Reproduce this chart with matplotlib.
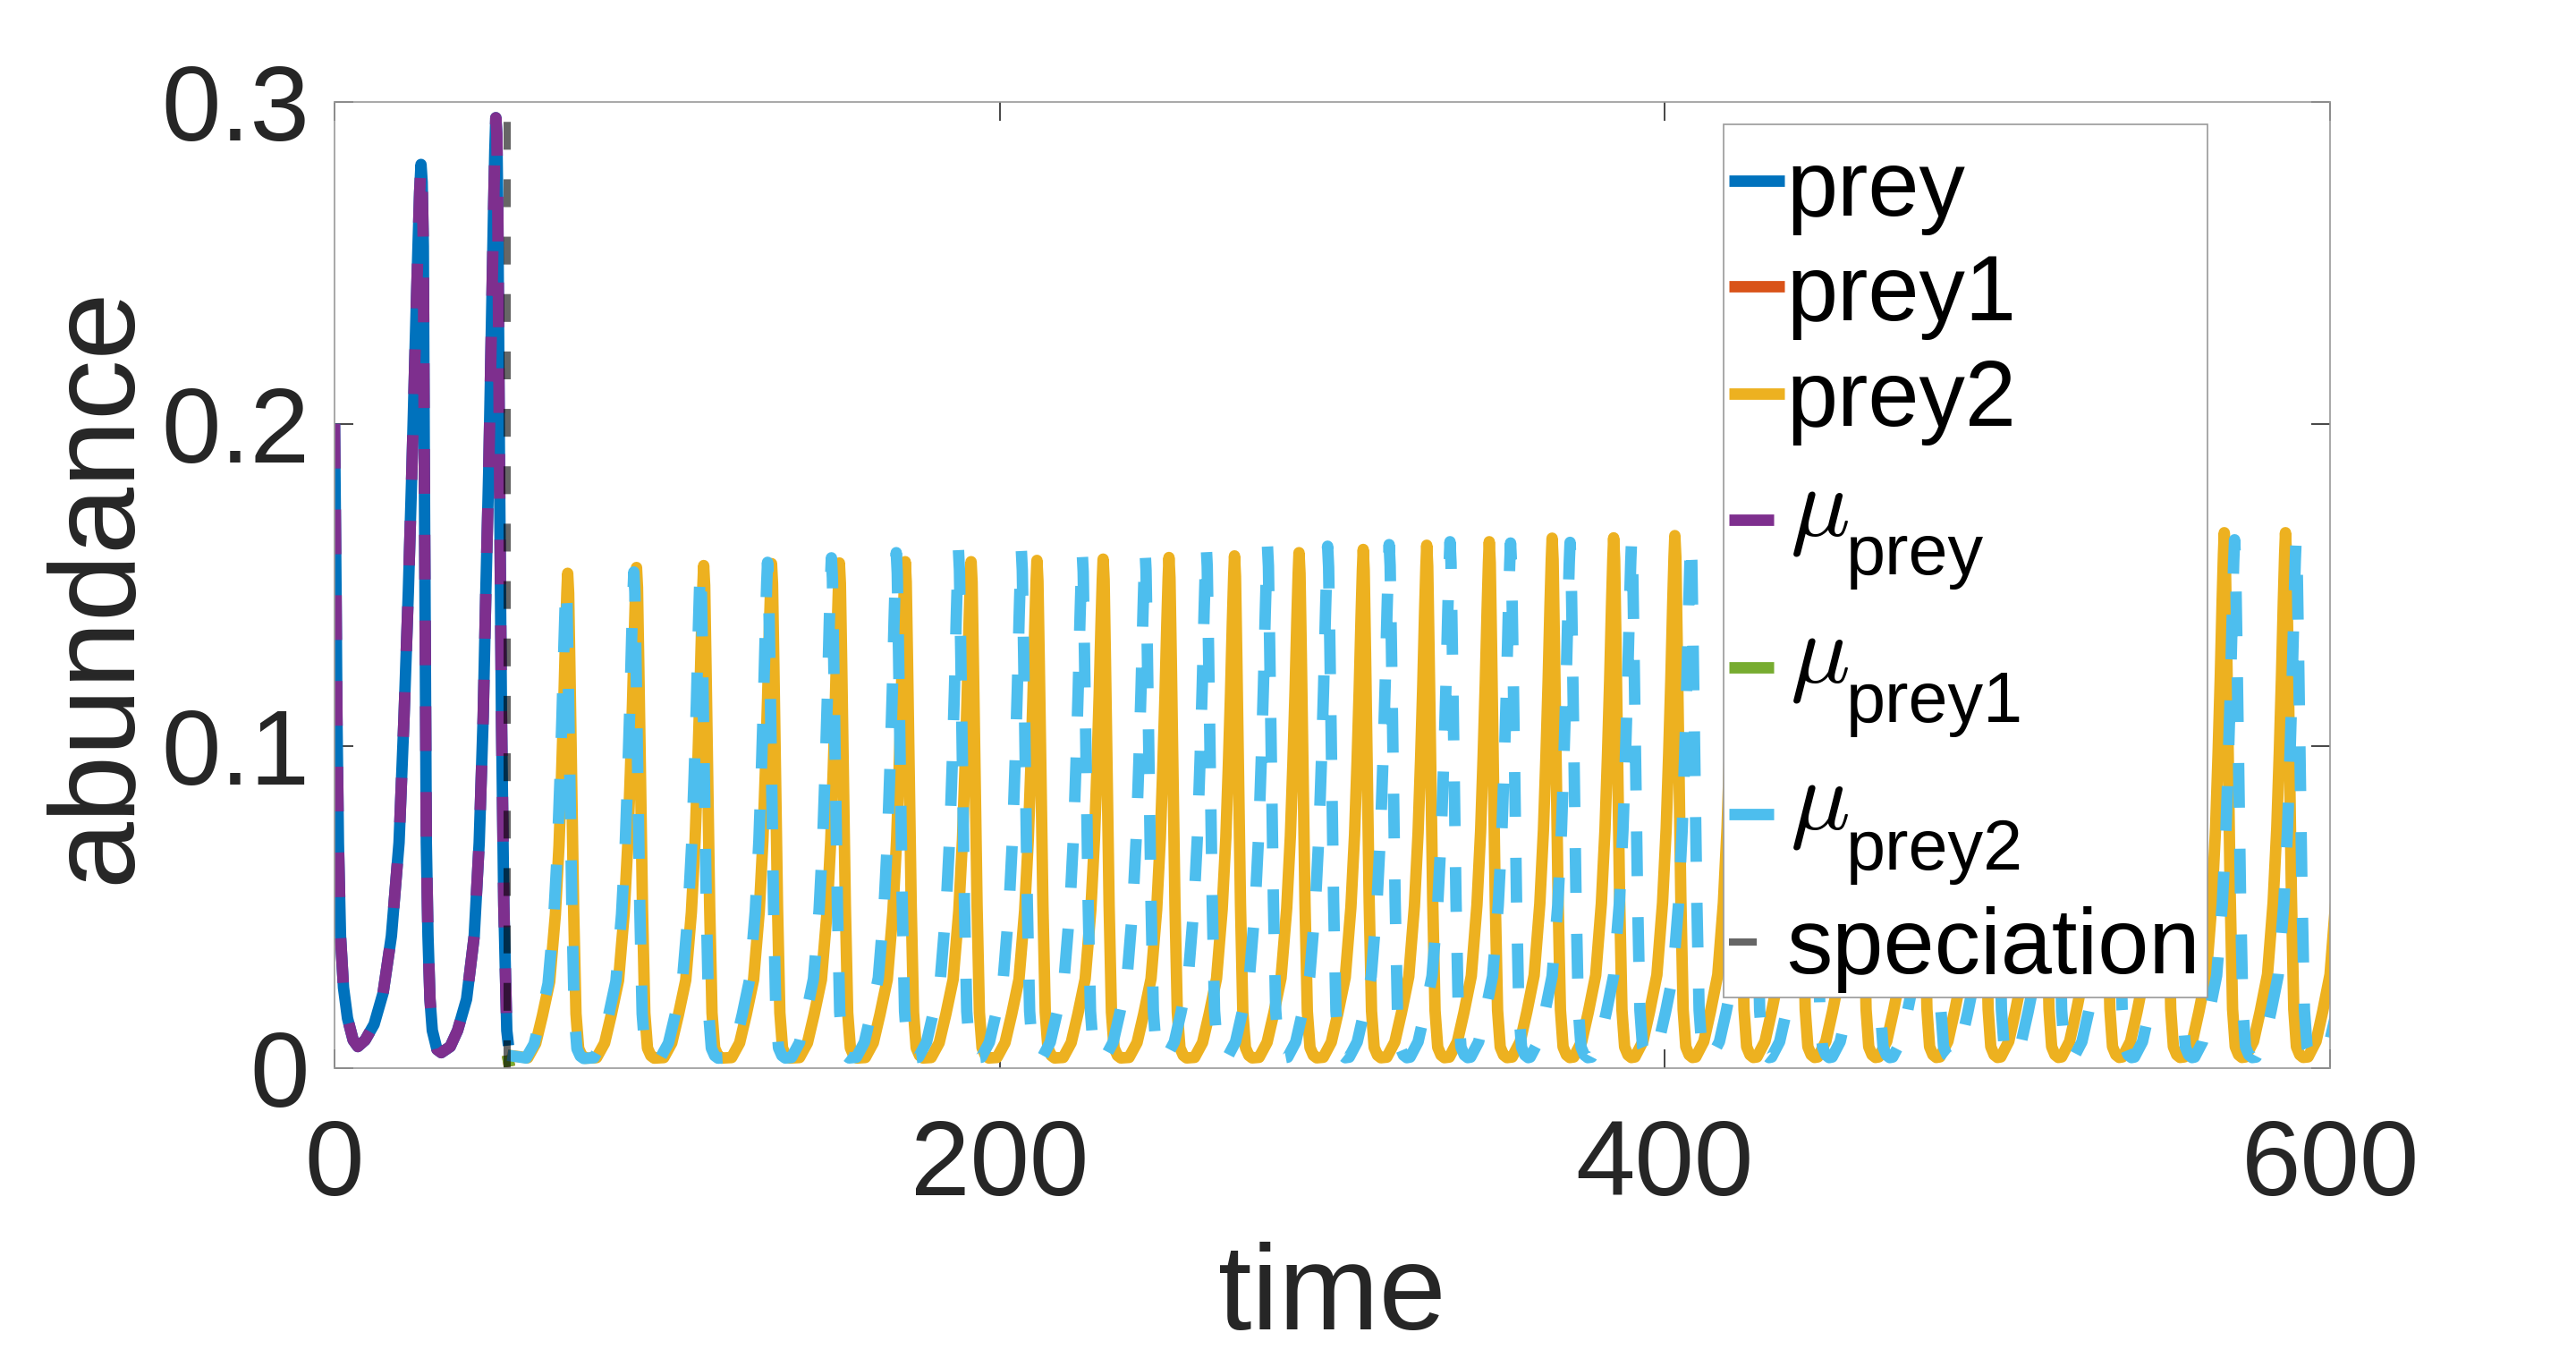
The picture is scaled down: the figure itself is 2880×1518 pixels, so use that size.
import matplotlib
matplotlib.use("Agg")
import matplotlib.pyplot as plt
from matplotlib.lines import Line2D
from matplotlib.patches import Rectangle

plt.rcParams['font.family'] = ['Liberation Sans', 'DejaVu Sans']

# ---------------- data ----------------
# single prey (and its trait mean) before speciation
PREY_T = [0, 0.45, 0.72, 1.17, 1.8, 2.7, 3.9, 5.6, 7.0, 9.2, 11.9, 14.6, 17.1, 19.4,
          20.9, 22.2, 23.3, 24.3, 25.1, 25.6, 26.0, 26.35, 26.7, 27.0, 27.4, 27.6,
          28.1, 28.7, 29.4, 30.8, 32.1, 34.8, 37.0, 39.7, 42.0, 43.5, 44.7, 45.5,
          46.4, 47.1, 47.8, 48.2, 48.5, 48.8, 49.1, 49.6, 50.2, 50.9, 51.8, 52.3]
PREY_Y = [0.200, 0.148, 0.109, 0.070, 0.041, 0.025, 0.0155, 0.0087, 0.0067, 0.0087,
          0.0136, 0.0233, 0.041, 0.070, 0.109, 0.148, 0.187, 0.226, 0.255, 0.272,
          0.2805, 0.275, 0.255, 0.187, 0.109, 0.070, 0.041, 0.0214, 0.0117, 0.0058,
          0.0048, 0.0067, 0.0117, 0.0214, 0.041, 0.070, 0.109, 0.148, 0.187, 0.226,
          0.265, 0.285, 0.295, 0.290, 0.265, 0.187, 0.109, 0.0506, 0.0117, 0.007]
MU_PREY_T = list(PREY_T)
MU_PREY_Y = list(PREY_Y)

SPECIATION_T = 52.0

# prey1 / mu_prey1 vanish right at speciation
PREY1_T = [52.0, 52.6]
PREY1_Y = [0.004, 0.0005]
MU_PREY1_T = [52.0, 52.6]
MU_PREY1_Y = [0.004, 0.0005]

# prey2: peak times and peak heights
PREY2_START = (52.0, 0.004)
PREY2_PEAK_T = [70.1, 90.8, 111.0, 131.4, 151.8, 171.6, 191.4, 211.2, 231.1, 250.9,
                270.6, 290.0, 309.3, 328.4, 347.2, 366.1, 384.6, 403.0, 421.3, 439.7,
                458.0, 476.3, 494.7, 513.0, 531.3, 549.6, 568.2, 586.6, 605.4]
PREY2_PEAK_Y = [0.1536, 0.1554, 0.1560, 0.1566, 0.1568, 0.1572, 0.1572, 0.1576, 0.1580,
                0.1585, 0.1590, 0.1600, 0.1610, 0.1623, 0.1634, 0.1645, 0.1646, 0.1653,
                0.1655, 0.1657, 0.1658, 0.1659, 0.1660, 0.1660, 0.1661, 0.1661, 0.1662,
                0.1662, 0.1662]

# mu_prey2: peak times and peak heights
MU2_START = (52.0, 0.004)
MU2_PEAK_T = [69.6, 90.0, 110.0, 130.2, 149.4, 168.9, 187.6, 206.5, 224.8, 243.7,
              262.1, 280.5, 298.6, 317.1, 335.4, 353.6, 371.5, 390.0, 407.8, 426.0,
              444.1, 462.3, 480.5, 498.7, 516.8, 535.0, 553.2, 571.3, 589.8, 609.5]
MU2_PEAK_Y = [0.1500, 0.1540, 0.1550, 0.1570, 0.1584, 0.1600, 0.1610, 0.1610, 0.1605,
              0.1610, 0.1623, 0.1623, 0.1620, 0.1625, 0.1634, 0.1630, 0.1632, 0.1640,
              0.1640, 0.1640, 0.1640, 0.1640, 0.1640, 0.1640, 0.1640, 0.1640, 0.1640,
              0.1640, 0.1640, 0.1640]

# shape of one spike (time offset from the peak, fraction of the peak height)
SPIKE_DT = [-12.0, -9.6, -7.6, -5.4, -3.7, -2.6, -1.85, -1.2, -0.65, -0.25, 0.0,
            0.3, 0.7, 1.2, 1.8, 2.5, 3.3, 4.3, 5.3]
SPIKE_FRAC = [0.021, 0.05, 0.106, 0.175, 0.31, 0.45, 0.59, 0.73, 0.87, 0.96, 1.0,
              0.96, 0.80, 0.58, 0.32, 0.11, 0.04, 0.025, 0.02]

XTICKS = [0, 200, 400, 600]
YTICKS = [0, 0.1, 0.2, 0.3]
YTICKLABELS = ['0', '0.1', '0.2', '0.3']

# legend labels: (main text, subscript or None)
LEGEND_LABELS = [('prey', None), ('prey1', None), ('prey2', None),
                 (r'$\mu$', 'prey'), (r'$\mu$', 'prey1'), (r'$\mu$', 'prey2'),
                 ('speciation', None)]


def spikes(start, peak_t, peak_y):
    ts, ys = [start[0]], [start[1]]
    for tp, yp in zip(peak_t, peak_y):
        for dt, f in zip(SPIKE_DT, SPIKE_FRAC):
            t = tp + dt
            if t > ts[-1]:
                ts.append(t)
                ys.append(f * yp)
    return ts, ys


prey2_t, prey2_y = spikes(PREY2_START, PREY2_PEAK_T, PREY2_PEAK_Y)
mu2_t, mu2_y = spikes(MU2_START, MU2_PEAK_T, MU2_PEAK_Y)

# ---------------- figure ----------------
W, H, DPI = 2880, 1518, 200
fig = plt.figure(figsize=(W / DPI, H / DPI), dpi=DPI)
ax = fig.add_axes([374 / W, 1 - 1194 / H, 2231 / W, 1080.4 / H])

LW = 4.6
GLW = 2.9
dash_mu = (0, (18.0 / LW, 16.5 / LW))
dash_sp = (0, (11.2 / GLW, 11.9 / GLW))

C_BLUE = '#0072BD'
C_RED = '#D95319'
C_YEL = '#EDB120'
C_PUR = '#7E2F8E'
C_GRN = '#77AC30'
C_CYAN = '#4DBEEE'

kw = dict(solid_joinstyle='round', dash_joinstyle='round', solid_capstyle='butt',
          dash_capstyle='butt')
h1, = ax.plot(PREY_T, PREY_Y, color=C_BLUE, lw=LW, **kw)
h2, = ax.plot(PREY1_T, PREY1_Y, color=C_RED, lw=LW, **kw)
h3, = ax.plot(prey2_t, prey2_y, color=C_YEL, lw=LW, **kw)
h4, = ax.plot(MU_PREY_T, MU_PREY_Y, color=C_PUR, lw=LW, ls=dash_mu, **kw)
h5, = ax.plot(MU_PREY1_T, MU_PREY1_Y, color=C_GRN, lw=LW, ls=dash_mu, **kw)
h6, = ax.plot(mu2_t, mu2_y, color=C_CYAN, lw=LW, ls=dash_mu, **kw)
h7, = ax.plot([SPECIATION_T, SPECIATION_T], [0, 0.3], color='black', alpha=0.6,
              lw=GLW, ls=dash_sp)
handles = [h1, h2, h3, h4, h5, h6, h7]
handle_styles = ['-', '-', '-', dash_mu, dash_mu, dash_mu, dash_sp]

ax.set_xlim(0, 600)
ax.set_ylim(0, 0.3)
ax.set_xticks(XTICKS)
ax.set_xticklabels([str(v) for v in XTICKS])
ax.set_yticks(YTICKS)
ax.set_yticklabels(YTICKLABELS)

for s in ax.spines.values():
    s.set_color('#9a9a9a')
    s.set_linewidth(0.6)

ax.tick_params(axis='both', which='both', direction='in', length=7.6, width=0.6,
               color='#262626', labelcolor='#262626', labelsize=43,
               top=True, right=True)
ax.tick_params(axis='x', pad=20)
ax.tick_params(axis='y', pad=10)

ax.set_xlabel('time', fontsize=48.5, color='#262626')
ax.set_ylabel('abundance', fontsize=48.5, color='#262626')
ax.xaxis.set_label_coords(0.5, -0.18)
ax.yaxis.set_label_coords(-0.090, 0.5)

# ---------------- legend (MATLAB style, drawn in figure pixels) ----------------
def fx(px):
    return px / W


def fy(py):
    return 1 - py / H


BOX_L, BOX_T, BOX_R, BOX_B = 1927, 139, 2468, 1115
fig.add_artist(Rectangle((fx(BOX_L), fy(BOX_B)), (BOX_R - BOX_L) / W,
                         (BOX_B - BOX_T) / H, transform=fig.transFigure,
                         facecolor='white', edgecolor='#9a9a9a', lw=0.6, zorder=5))
ROW_Y = [201.7, 319.6, 440.2, 580.8, 746.3, 910.3, 1053.0]
MAIN_BASE = [240.6, 357.8, 476.3, 598.0, 763.0, 927.0, 1087.8]
SUB_BASE = [None, None, None, 642.4, 806.5, 972.0, None]
H_X0, H_X1 = 1933, 1995

for hd, st, ry, (main, sub), mb, sb in zip(handles, handle_styles, ROW_Y,
                                           LEGEND_LABELS, MAIN_BASE, SUB_BASE):
    fig.add_artist(Line2D([fx(H_X0), fx(H_X1)], [fy(ry), fy(ry)],
                          transform=fig.transFigure, color=hd.get_color(),
                          alpha=hd.get_alpha(), lw=hd.get_linewidth(), ls=st,
                          solid_capstyle='butt', dash_capstyle='butt', zorder=6))
    if sub is None:
        fig.text(fx(1997), fy(mb), main, fontsize=37, color='black',
                 ha='left', va='baseline', zorder=7)
    else:
        fig.text(fx(2001), fy(mb), main, fontsize=40, color='black',
                 math_fontfamily='cm', ha='left', va='baseline', zorder=7)
        fig.text(fx(2064), fy(sb), sub, fontsize=28.5, color='black',
                 ha='left', va='baseline', zorder=7)

fig.savefig('out.png', dpi=DPI, facecolor='white')
